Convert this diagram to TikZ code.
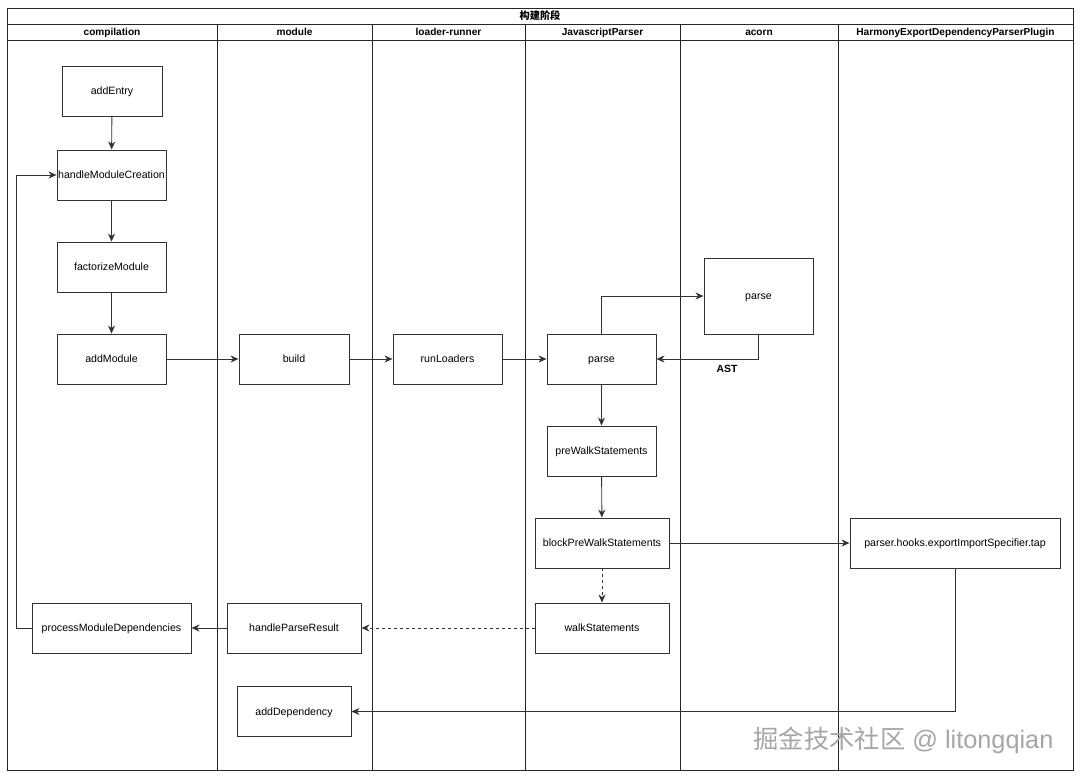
\documentclass[tikz,border=0pt]{standalone}
\usepackage{fontspec}
\setmainfont{Liberation Sans}
\newfontfamily\cjk{Noto Sans CJK SC}
\usetikzlibrary{arrows.meta}
\begin{document}
\begin{tikzpicture}[x=1pt,y=-1pt,
  line width=0.9pt,
  every node/.style={inner sep=0pt},
  box/.style={draw=black!80, fill=white, line width=0.9pt, minimum height=50pt, text height=7.6pt, text depth=0pt, font=\fontsize{10.6}{12}\selectfont},
  hdr/.style={font=\bfseries\fontsize{10.1}{12}\selectfont, text height=7.4pt, text depth=0pt},
  arr/.style={draw=black!80, -{Stealth[length=8pt,width=7pt,inset=2.5pt]}},
  dsh/.style={dash pattern=on 3pt off 3pt}
]
\useasboundingbox (0,0) rectangle (1080,778);
\fill[white] (0,0) rectangle (1080,778);
% frame
\draw[black!85] (7,8) rectangle (1073,770);
\draw[black!85] (7,24) -- (1073,24);
\draw[black!85] (7,40) -- (1073,40);
\foreach \xx in {217,372,525,680,838} \draw[black!85] (\xx,24) -- (\xx,770);
% titles
\node[font=\cjk\bfseries\fontsize{10.2}{12}\selectfont] (title) at (540,16) {构建阶段};
\node[hdr] (h1) at (112,32) {compilation};
\node[hdr] (h2) at (294.5,32) {module};
\node[hdr] (h3) at (448.5,32) {loader-runner};
\node[hdr] (h4) at (602.5,32) {JavascriptParser};
\node[hdr] (h5) at (759,32) {acorn};
\node[hdr] (h6) at (955.5,32) {HarmonyExportDependencyParserPlugin};
% nodes
\node[box, minimum width=100pt] (addEntry) at (112,91) {addEntry};
\node[box, minimum width=109pt] (hmc) at (111.5,175) {handleModuleCreation};
\node[box, minimum width=109pt] (fm) at (111.5,267) {factorizeModule};
\node[box, minimum width=109pt] (am) at (111.5,359) {addModule};
\node[box, minimum width=110pt] (build) at (294,359) {build};
\node[box, minimum width=109pt] (rl) at (447.5,359) {runLoaders};
\node[box, minimum width=109pt] (jparse) at (601.5,359) {parse};
\node[box, minimum width=109pt, minimum height=76pt] (aparse) at (758.5,296) {parse};
\node[box, minimum width=109pt] (pws) at (601.5,451) {preWalkStatements};
\node[box, minimum width=134pt] (bpws) at (602,543) {blockPreWalkStatements};
\node[box, minimum width=134pt] (ws) at (602,628) {walkStatements};
\node[box, minimum width=210pt] (tap) at (955,543) {parser.hooks.exportImportSpecifier.tap};
\node[box, minimum width=134pt] (hpr) at (294,628) {handleParseResult};
\node[box, minimum width=159pt] (pmd) at (111.5,628) {processModuleDependencies};
\node[box, minimum width=114pt] (adep) at (294,711.5) {addDependency};
% edges
\draw[arr] (addEntry) -- (hmc);
\draw[arr] (hmc) -- (fm);
\draw[arr] (fm) -- (am);
\draw[arr] (am) -- (build);
\draw[arr] (build) -- (rl);
\draw[arr] (rl) -- (jparse);
\draw[arr] (jparse.north) |- (aparse.west);
\draw[arr] (aparse.south) |- (jparse.east);
\node[font=\bfseries\fontsize{10.4}{12}\selectfont] (ast) at (727,369) {AST};
\draw[arr] (jparse) -- (pws);
\draw[arr] (pws) -- (bpws);
\draw[arr, dsh] (bpws) -- (ws);
\draw[arr] (bpws) -- (tap);
\draw[arr, dsh] (ws) -- (hpr);
\draw[arr] (hpr) -- (pmd);
\coordinate (lp) at (16,628);
\draw[arr] (pmd.west) -- (lp) |- (hmc.west);
\draw[arr] (tap.south) |- (adep.east);
% watermark
\node[font=\fontsize{25.3}{28}\selectfont, text=black!35] (wm) at (903.5,740) {{\cjk 掘金技术社区} @ litongqian};
\end{tikzpicture}
\end{document}
